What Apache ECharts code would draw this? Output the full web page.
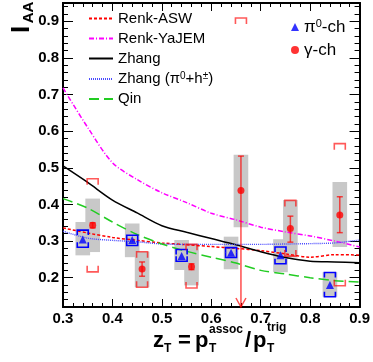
<!DOCTYPE html>
<html>
<head>
<meta charset="utf-8">
<script src="https://cdn.jsdelivr.net/npm/echarts@6/dist/echarts.min.js"></script>
<style>
  html, body { margin: 0; padding: 0; background: #fff; }
  #chart { width: 373px; height: 362px; }
</style>
</head>
<body>
<div id="chart"></div>
<script>
const FONT = '"Liberation Sans", Arial, Helvetica, sans-serif';

// model curves, sampled along z_T
const zCurve = [0.30, 0.35, 0.40, 0.45, 0.50, 0.55, 0.60, 0.65, 0.70, 0.75, 0.80, 0.85, 0.90];
const renkASW = [0.336, 0.322, 0.310, 0.302, 0.295, 0.290, 0.285, 0.280, 0.274, 0.265, 0.256, 0.263, 0.262];
const renkYaJEM = [0.718, 0.610, 0.514, 0.468, 0.432, 0.405, 0.376, 0.358, 0.338, 0.325, 0.314, 0.300, 0.284];
const zhang = [0.505, 0.460, 0.412, 0.377, 0.342, 0.324, 0.307, 0.290, 0.271, 0.255, 0.245, 0.243, 0.241];
const zhangPiH = [0.327, 0.308, 0.302, 0.298, 0.292, 0.291, 0.291, 0.291, 0.291, 0.292, 0.293, 0.295, 0.303];
const qin = [0.416, 0.390, 0.352, 0.318, 0.292, 0.272, 0.256, 0.240, 0.220, 0.210, 0.200, 0.192, 0.188];

// pi0-hadron points
const zPi = [0.34, 0.44, 0.54, 0.64, 0.74, 0.84];
const piVal = [0.304, 0.303, 0.259, 0.268, 0.261, 0.180];
const piBoxLo = [0.261, 0.256, 0.221, 0.223, 0.215, 0.148];
const piBoxHi = [0.352, 0.348, 0.303, 0.312, 0.305, 0.215];
const piSysLo = [0.283, 0.288, 0.245, 0.255, 0.238, 0.148];
const piSysHi = [0.330, 0.316, 0.277, 0.282, 0.284, 0.214];

// direct photon-hadron points (0 = edge below the axis)
const zGam = [0.36, 0.46, 0.56, 0.66, 0.76, 0.86];
const gamVal = [0.343, 0.2235, 0.230, 0.438, 0.334, 0.371];
const gamStatLo = [0.336, 0.204, 0.222, 0, 0.297, 0.323];
const gamStatHi = [0.350, 0.243, 0.238, 0.532, 0.368, 0.421];
const gamBoxLo = [0.270, 0.174, 0.179, 0.338, 0.255, 0.284];
const gamBoxHi = [0.416, 0.271, 0.291, 0.536, 0.412, 0.461];
const gamSysLo = [0.216, 0.174, 0.172, 0, 0.259, 0.178];
const gamSysHi = [0.470, 0.271, 0.291, 0.909, 0.411, 0.566];

const xTicks = [0.3, 0.4, 0.5, 0.6, 0.7, 0.8, 0.9];
const yMajor = [0.2, 0.3, 0.4, 0.5, 0.6, 0.7, 0.8, 0.9];

const X_MIN = 0.3, X_MAX = 0.9, Y_MIN = 0.12, Y_MAX = 0.95;
const BOX_HALF = 0.0148;

const yMinor = [];
for (let k = 14; k < 95; k += 2) {
  if (k % 10 !== 0) yMinor.push(k / 100);
}

const zip = (xs, a) => xs.map((x, i) => [x, a[i]]);
const zip3 = (xs, a, b) => xs.map((x, i) => [x, a[i], b[i]]);

function renderBox(params, api) {
  const z = api.value(0);
  const p1 = api.coord([z - BOX_HALF, api.value(2)]);
  const p2 = api.coord([z + BOX_HALF, api.value(1)]);
  return {
    type: 'rect',
    shape: { x: p1[0], y: p1[1], width: p2[0] - p1[0], height: p2[1] - p1[1] },
    style: { fill: '#c8c8c8' }
  };
}

function makeBracket(color, half, leg) {
  return function (params, api) {
    const z = api.value(0), lo = api.value(1), hi = api.value(2);
    const kids = [];
    const st = { stroke: color, lineWidth: 1.6, fill: null };
    if (hi <= Y_MAX) {
      const p = api.coord([z, hi]);
      kids.push({ type: 'polyline', shape: { points: [[p[0] - half, p[1] + leg], [p[0] - half, p[1]], [p[0] + half, p[1]], [p[0] + half, p[1] + leg]] }, style: st });
    }
    if (lo >= Y_MIN) {
      const p = api.coord([z, lo]);
      kids.push({ type: 'polyline', shape: { points: [[p[0] - half, p[1] - leg], [p[0] - half, p[1]], [p[0] + half, p[1]], [p[0] + half, p[1] - leg]] }, style: st });
    }
    return { type: 'group', children: kids };
  };
}

function renderStat(params, api) {
  const z = api.value(0), lo = api.value(1), hi = api.value(2);
  const st = { stroke: 'rgba(255,0,0,0.7)', lineWidth: 1.5, fill: null };
  const top = api.coord([z, hi]);
  const bot = api.coord([z, Math.max(lo, Y_MIN)]);
  const kids = [
    { type: 'line', shape: { x1: top[0], y1: top[1], x2: bot[0], y2: bot[1] }, style: st },
    { type: 'line', shape: { x1: top[0] - 3, y1: top[1], x2: top[0] + 3, y2: top[1] }, style: st }
  ];
  if (lo >= Y_MIN) {
    kids.push({ type: 'line', shape: { x1: bot[0] - 3, y1: bot[1], x2: bot[0] + 3, y2: bot[1] }, style: st });
  } else {
    kids.push({ type: 'polyline', shape: { points: [[bot[0] - 5, bot[1] - 9], [bot[0], bot[1]], [bot[0] + 5, bot[1] - 9]] }, style: st });
  }
  return { type: 'group', children: kids };
}

const rich = {
  t: { fontFamily: FONT, fontSize: 15, color: '#000', lineHeight: 16 },
  sup: { fontFamily: FONT, fontSize: 10, color: '#000', verticalAlign: 'top', lineHeight: 16 }
};
const richR = {
  t: { fontFamily: FONT, fontSize: 17, color: '#000', lineHeight: 18 },
  sup: { fontFamily: FONT, fontSize: 11, color: '#000', verticalAlign: 'top', lineHeight: 18 }
};

function legendText(name) {
  if (name === 'Zhang (π0+h±)') return '{t|Zhang (π}{sup|0}{t|+h}{sup|±}{t|)}';
  if (name === 'π0-ch') return '{t|π}{sup|0}{t|-ch}';
  return '{t|' + name + '}';
}

// x-axis title, z_T = p_T^assoc / p_T^trig, placed piece by piece
const MAIN = 'bold 22px ' + FONT;
const SMALL = 'bold 12px ' + FONT;
const TITLE_BASE = 347;
const txt = (s, x, font, y) => ({ type: 'text', x: x, y: y, style: { text: s, font: font, fill: '#000', verticalAlign: 'bottom' } });
const titleKids = [
  txt('z', 153, MAIN, TITLE_BASE + 5),
  txt('T', 164, SMALL, TITLE_BASE + 8),
  txt('=', 178, MAIN, TITLE_BASE + 5),
  txt('p', 195, MAIN, TITLE_BASE + 5),
  txt('T', 209, SMALL, TITLE_BASE + 8),
  txt('assoc', 209, SMALL, TITLE_BASE - 11),
  txt('/', 245, MAIN, TITLE_BASE + 5),
  txt('p', 253, MAIN, TITLE_BASE + 5),
  txt('T', 267, SMALL, TITLE_BASE + 8),
  txt('trig', 267, SMALL, TITLE_BASE - 13)
];

const axisCommon = {
  type: 'value',
  axisLine: { show: true, lineStyle: { color: '#000', width: 2 } },
  splitLine: { show: false },
  minorSplitLine: { show: false }
};
const labelStyle = { color: '#000', fontFamily: FONT, fontWeight: 'bold', fontSize: 15 };

const chart = echarts.init(document.getElementById('chart'));
chart.setOption({
  animation: false,
  backgroundColor: '#fff',
  grid: { left: 63, right: 5, top: 3, bottom: 55 },
  xAxis: [
    Object.assign({}, axisCommon, {
      min: X_MIN, max: X_MAX, interval: 0.1, position: 'bottom',
      axisTick: { inside: true, length: 8, lineStyle: { color: '#000' } },
      minorTick: { show: true, splitNumber: 5, length: 4, lineStyle: { color: '#000' } },
      axisLabel: Object.assign({}, labelStyle, { margin: 4, customValues: xTicks, formatter: v => v.toFixed(1) })
    }),
    Object.assign({}, axisCommon, {
      min: X_MIN, max: X_MAX, interval: 0.1, position: 'top',
      axisTick: { inside: true, length: 8, lineStyle: { color: '#000' } },
      minorTick: { show: true, splitNumber: 5, length: 4, lineStyle: { color: '#000' } },
      axisLabel: { show: false }
    })
  ],
  yAxis: [
    Object.assign({}, axisCommon, {
      min: Y_MIN, max: Y_MAX, position: 'left',
      axisTick: { inside: true, length: 10, customValues: yMajor, lineStyle: { color: '#000' } },
      axisLabel: Object.assign({}, labelStyle, { margin: 4, customValues: yMajor, formatter: v => v.toFixed(1) })
    }),
    Object.assign({}, axisCommon, {
      min: Y_MIN, max: Y_MAX, position: 'left',
      axisTick: { inside: true, length: 5, customValues: yMinor, lineStyle: { color: '#000' } },
      axisLabel: { show: false }
    }),
    Object.assign({}, axisCommon, {
      min: Y_MIN, max: Y_MAX, position: 'right',
      axisTick: { inside: true, length: 10, customValues: yMajor, lineStyle: { color: '#000' } },
      axisLabel: { show: false }
    }),
    Object.assign({}, axisCommon, {
      min: Y_MIN, max: Y_MAX, position: 'right',
      axisTick: { inside: true, length: 5, customValues: yMinor, lineStyle: { color: '#000' } },
      axisLabel: { show: false }
    })
  ],
  legend: [
    {
      orient: 'vertical', left: 88, top: 11, padding: 0,
      itemWidth: 24, itemHeight: 14, itemGap: 5,
      data: ['Renk-ASW', 'Renk-YaJEM', 'Zhang', 'Zhang (π0+h±)', 'Qin'],
      itemStyle: { opacity: 0 },
      formatter: legendText,
      textStyle: { rich: rich },
      selectedMode: false
    },
    {
      orient: 'vertical', left: 291, top: 18, padding: 0,
      itemWidth: 8, itemHeight: 8, itemGap: 6,
      data: ['π0-ch', 'γ-ch'],
      formatter: legendText,
      textStyle: { rich: richR },
      selectedMode: false
    }
  ],
  graphic: [
    {
      type: 'group', x: 0, y: 34, rotation: Math.PI / 2,
      children: [
        { type: 'text', x: 4.5, y: 21.5, style: { text: 'I', font: 'bold 26px ' + FONT, fill: '#000', align: 'center', verticalAlign: 'middle' } },
        { type: 'text', x: 21.5, y: 28.5, style: { text: 'AA', font: 'bold 15px ' + FONT, fill: '#000', align: 'center', verticalAlign: 'middle' } }
      ]
    },
    { type: 'group', children: titleKids }
  ],
  series: [
    { type: 'custom', name: 'piBox', renderItem: renderBox, data: zip3(zPi, piBoxLo, piBoxHi), encode: { x: 0, y: [1, 2] }, z: 1, silent: true },
    { type: 'custom', name: 'gamBox', renderItem: renderBox, data: zip3(zGam, gamBoxLo, gamBoxHi), encode: { x: 0, y: [1, 2] }, z: 1, silent: true },
    { type: 'line', name: 'Renk-ASW', data: zip(zCurve, renkASW), smooth: 0.3, symbol: 'none', z: 2, lineStyle: { color: '#ff0000', width: 1.5, type: [3, 2] }, itemStyle: { color: '#ff0000' } },
    { type: 'line', name: 'Renk-YaJEM', data: zip(zCurve, renkYaJEM), smooth: 0.3, symbol: 'none', z: 2, lineStyle: { color: '#ff00ff', width: 1.5, type: [5, 2, 1, 2] }, itemStyle: { color: '#ff00ff' } },
    { type: 'line', name: 'Zhang', data: zip(zCurve, zhang), smooth: 0.3, symbol: 'none', z: 2, lineStyle: { color: '#000', width: 1.5 }, itemStyle: { color: '#000' } },
    { type: 'line', name: 'Zhang (π0+h±)', data: zip(zCurve, zhangPiH), smooth: 0.3, symbol: 'none', z: 2, lineStyle: { color: '#4a4aff', width: 1.4, type: [1, 1] }, itemStyle: { color: '#4a4aff' } },
    { type: 'line', name: 'Qin', data: zip(zCurve, qin), smooth: 0.3, symbol: 'none', z: 2, lineStyle: { color: '#22cc22', width: 1.5, type: [10, 5] }, itemStyle: { color: '#22cc22' } },
    { type: 'custom', name: 'piSys', renderItem: makeBracket('#0000ff', 5.5, 5), data: zip3(zPi, piSysLo, piSysHi), encode: { x: 0, y: [1, 2] }, z: 3, silent: true },
    { type: 'custom', name: 'gamSys', renderItem: makeBracket('rgba(255,0,0,0.65)', 5.5, 6), data: zip3(zGam, gamSysLo, gamSysHi), encode: { x: 0, y: [1, 2] }, z: 3, silent: true },
    { type: 'custom', name: 'gamStat', renderItem: renderStat, data: zip3(zGam, gamStatLo, gamStatHi), encode: { x: 0, y: [1, 2] }, z: 4, silent: true },
    { type: 'scatter', name: 'π0-ch', data: zip(zPi, piVal), symbol: 'triangle', symbolSize: 8, z: 5, itemStyle: { color: '#0000ff' } },
    { type: 'scatter', name: 'γ-ch', data: zip(zGam, gamVal), symbol: 'circle', symbolSize: 7, z: 5, itemStyle: { color: '#ff0000' } }
  ]
});
</script>
</body>
</html>
